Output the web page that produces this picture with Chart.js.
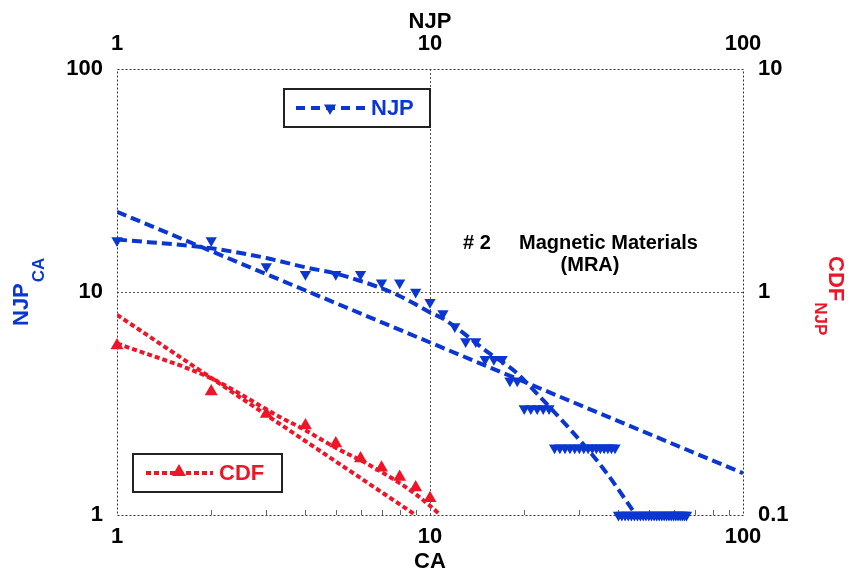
<!DOCTYPE html>
<html>
<head>
  <meta charset="UTF-8">
  <title>NJP vs CA</title>
  <script src="https://cdn.jsdelivr.net/npm/chart.js"></script>
  <style>
    body { margin: 0; background: #fff; }
    #wrap { width: 854px; height: 574px; }
  </style>
</head>
<body>
<div id="wrap"><canvas id="graphCanvas" width="854" height="574"></canvas></div>
<script>
  // NJP observations (left axis) against CA
  const njpCA = [1, 2, 3, 4, 5, 6, 7, 8, 9, 10, 11, 12, 13, 14, 15, 16, 17, 18, 19,
    20, 21, 22, 23, 24,
    25, 26, 27, 28, 29, 30, 31, 32, 33, 34, 35, 36, 37, 38, 39,
    40, 41, 42, 43, 44, 45, 46, 47, 48, 49, 50, 51, 52, 53, 54, 55, 56, 57, 58, 59, 60,
    61, 62, 63, 64, 65, 66];
  const njpVal = [17, 17, 13, 12, 12, 12, 11, 11, 10, 9, 8, 7, 6, 6, 5, 5, 5, 4, 4,
    3, 3, 3, 3, 3,
    2, 2, 2, 2, 2, 2, 2, 2, 2, 2, 2, 2, 2, 2, 2,
    1, 1, 1, 1, 1, 1, 1, 1, 1, 1, 1, 1, 1, 1, 1, 1, 1, 1, 1, 1, 1,
    1, 1, 1, 1, 1, 1];

  // curved fit through NJP
  const njpFitCA = [1, 2, 3, 4, 5, 6, 7, 8, 9, 10, 11, 15.5, 18.7, 22.4, 31.6, 36.7, 45.5];
  const njpFitVal = [17.2, 15.7, 14.2, 12.9, 12.1, 11.2, 10.4, 9.6, 8.8, 8.1, 7.6, 5.3, 4.4, 3.4, 2.0, 1.54, 1.0];

  // straight (power) fit for NJP
  const njpPowCA = [1, 100];
  const njpPowVal = [22.9, 1.54];

  // CDF observations (right axis)
  const cdfCA = [1, 2, 3, 4, 5, 6, 7, 8, 9, 10];
  const cdfVal = [0.575, 0.358, 0.284, 0.252, 0.209, 0.179, 0.163, 0.148, 0.133, 0.119];

  // curved fit through CDF
  const cdfFitCA = [1, 2, 3.3, 4, 5, 6, 7, 8, 9, 10, 10.8];
  const cdfFitVal = [0.588, 0.41, 0.276, 0.24, 0.2, 0.176, 0.156, 0.139, 0.124, 0.11, 0.1];

  // straight (power) fit for CDF
  const cdfPowCA = [1, 9];
  const cdfPowVal = [0.79, 0.1];

  const xTicks = [1, 10, 100];
  const yTicks = [1, 10, 100];
  const y2Ticks = [0.1, 1, 10];
  const minorTicks = [2, 3, 4, 5, 6, 7, 8, 9, 20, 30, 40, 50, 60, 70, 80, 90];

  const BLUE = '#0b36d0';
  const RED = '#ee1529';
  const FONT = '"Liberation Sans", Arial, sans-serif';

  function pts(xs, ys) {
    return xs.map((x, i) => ({ x: x, y: ys[i] }));
  }

  function triangle(ctx, x, y, r, down) {
    ctx.save();
    ctx.translate(x, y);
    if (down) ctx.rotate(Math.PI);
    ctx.beginPath();
    ctx.moveTo(0, -r);
    ctx.lineTo(r * 0.866, r * 0.5);
    ctx.lineTo(-r * 0.866, r * 0.5);
    ctx.closePath();
    ctx.fill();
    ctx.restore();
  }

  const decor = {
    id: 'decor',
    beforeDatasetsDraw(chart) {
      const ctx = chart.ctx, a = chart.chartArea;
      const sx = chart.scales.x, sy = chart.scales.y;
      ctx.save();
      ctx.strokeStyle = '#555';
      ctx.lineWidth = 1;
      ctx.setLineDash([2, 2]);
      // grid at the decades
      const gx = Math.round(sx.getPixelForValue(10)) + 0.5;
      const gy = Math.round(sy.getPixelForValue(10)) + 0.5;
      ctx.beginPath();
      ctx.moveTo(gx, a.top); ctx.lineTo(gx, a.bottom);
      ctx.moveTo(a.left, gy); ctx.lineTo(a.right, gy);
      ctx.stroke();
      // frame
      ctx.strokeStyle = '#333';
      ctx.strokeRect(Math.round(a.left) + 0.5, Math.round(a.top) + 0.5, Math.round(a.right - a.left), Math.round(a.bottom - a.top));
      // minor ticks on the CA axis
      ctx.setLineDash([]);
      ctx.strokeStyle = '#666';
      ctx.beginPath();
      minorTicks.forEach(v => {
        const px = Math.round(sx.getPixelForValue(v)) + 0.5;
        ctx.moveTo(px, a.bottom); ctx.lineTo(px, a.bottom - 5);
      });
      ctx.stroke();
      ctx.restore();
    },
    afterDraw(chart) {
      const ctx = chart.ctx;
      ctx.save();
      ctx.fillStyle = '#000';
      ctx.textBaseline = 'middle';
      ctx.textAlign = 'center';
      ctx.font = 'bold 22px ' + FONT;
      ctx.fillText('CA', 430, 562);
      ctx.fillText('NJP', 430, 22);

      // annotation
      ctx.font = 'bold 20px ' + FONT;
      ctx.textAlign = 'left';
      ctx.fillText('# 2', 463, 243);
      ctx.fillText('Magnetic Materials', 519, 243);
      ctx.textAlign = 'center';
      ctx.fillText('(MRA)', 590, 265);

      // left axis title NJP with subscript CA
      ctx.save();
      ctx.translate(28, 326);
      ctx.rotate(-Math.PI / 2);
      ctx.fillStyle = BLUE;
      ctx.textAlign = 'left';
      ctx.textBaseline = 'alphabetic';
      ctx.font = 'bold 22px ' + FONT;
      ctx.fillText('NJP', 0, 0);
      let w = ctx.measureText('NJP').width;
      ctx.font = 'bold 17px ' + FONT;
      ctx.fillText('CA', w + 1, 16);
      ctx.restore();

      // right axis title CDF with subscript NJP
      ctx.save();
      ctx.translate(829, 256);
      ctx.rotate(Math.PI / 2);
      ctx.fillStyle = RED;
      ctx.textAlign = 'left';
      ctx.textBaseline = 'alphabetic';
      ctx.font = 'bold 22px ' + FONT;
      ctx.fillText('CDF', 0, 0);
      w = ctx.measureText('CDF').width;
      ctx.font = 'bold 17px ' + FONT;
      ctx.fillText('NJP', w + 1, 14);
      ctx.restore();

      // legend boxes
      ctx.setLineDash([]);
      ctx.lineWidth = 2;
      ctx.strokeStyle = '#222';
      ctx.strokeRect(284, 89, 146, 38);
      ctx.strokeRect(133, 454, 149, 38);

      ctx.lineWidth = 4;
      ctx.strokeStyle = BLUE;
      ctx.setLineDash([9, 6]);
      ctx.beginPath(); ctx.moveTo(296, 108); ctx.lineTo(366, 108); ctx.stroke();
      ctx.fillStyle = BLUE;
      triangle(ctx, 330, 108, 7, true);
      ctx.setLineDash([]);
      ctx.font = 'bold 22px ' + FONT;
      ctx.textAlign = 'left';
      ctx.textBaseline = 'middle';
      ctx.fillText('NJP', 371, 109);

      ctx.strokeStyle = RED;
      ctx.setLineDash([5, 3]);
      ctx.beginPath(); ctx.moveTo(146, 473); ctx.lineTo(213, 473); ctx.stroke();
      ctx.fillStyle = RED;
      triangle(ctx, 179, 472, 8, false);
      ctx.setLineDash([]);
      ctx.fillText('CDF', 219, 474);
      ctx.restore();
    }
  };

  const tickFont = { family: FONT, size: 22, weight: 'bold' };

  function logAxis(pos, min, max, ticks, size, pad) {
    const horiz = pos === 'top' || pos === 'bottom';
    return {
      type: 'logarithmic',
      display: true,
      position: pos,
      min: min,
      max: max,
      afterBuildTicks: s => { s.ticks = ticks.map(v => ({ value: v })); },
      afterFit: s => { if (horiz) s.height = size; else s.width = size; },
      grid: { display: false, drawTicks: false },
      border: { display: false },
      ticks: {
        font: tickFont,
        color: '#000',
        padding: pad,
        autoSkip: false,
        maxRotation: 0,
        callback: v => String(v)
      }
    };
  }

  new Chart(document.getElementById('graphCanvas'), {
    type: 'scatter',
    data: {
      datasets: [
        {
          label: 'NJP fit',
          data: pts(njpFitCA, njpFitVal),
          showLine: true,
          borderColor: BLUE,
          borderWidth: 4,
          borderDash: [10, 5],
          cubicInterpolationMode: 'monotone',
          pointRadius: 0,
          xAxisID: 'x', yAxisID: 'y'
        },
        {
          label: 'NJP power',
          data: pts(njpPowCA, njpPowVal),
          showLine: true,
          borderColor: BLUE,
          borderWidth: 4,
          borderDash: [10, 5],
          pointRadius: 0,
          xAxisID: 'x', yAxisID: 'y'
        },
        {
          label: 'NJP',
          data: pts(njpCA, njpVal),
          showLine: false,
          clip: false,
          pointStyle: 'triangle',
          rotation: 180,
          pointRadius: 6.5,
          backgroundColor: BLUE,
          borderColor: BLUE,
          borderWidth: 0,
          xAxisID: 'x', yAxisID: 'y'
        },
        {
          label: 'CDF fit',
          data: pts(cdfFitCA, cdfFitVal),
          showLine: true,
          borderColor: RED,
          borderWidth: 4,
          borderDash: [5, 3],
          cubicInterpolationMode: 'monotone',
          pointRadius: 0,
          xAxisID: 'x', yAxisID: 'y2'
        },
        {
          label: 'CDF power',
          data: pts(cdfPowCA, cdfPowVal),
          showLine: true,
          borderColor: RED,
          borderWidth: 4,
          borderDash: [5, 3],
          pointRadius: 0,
          xAxisID: 'x', yAxisID: 'y2'
        },
        {
          label: 'CDF',
          data: pts(cdfCA, cdfVal),
          showLine: false,
          clip: false,
          pointStyle: 'triangle',
          pointRadius: 7.5,
          backgroundColor: RED,
          borderColor: RED,
          borderWidth: 0,
          xAxisID: 'x', yAxisID: 'y2'
        }
      ]
    },
    options: {
      responsive: false,
      devicePixelRatio: 1,
      animation: false,
      layout: { padding: 0 },
      plugins: {
        legend: { display: false },
        tooltip: { enabled: false }
      },
      scales: {
        x: logAxis('bottom', 1, 100, xTicks, 59, 9),
        x2: logAxis('top', 1, 100, xTicks, 69, 12),
        y: logAxis('left', 1, 100, yTicks, 117, 14),
        y2: logAxis('right', 0.1, 10, y2Ticks, 111, 15)
      }
    },
    plugins: [decor]
  });
</script>
</body>
</html>
